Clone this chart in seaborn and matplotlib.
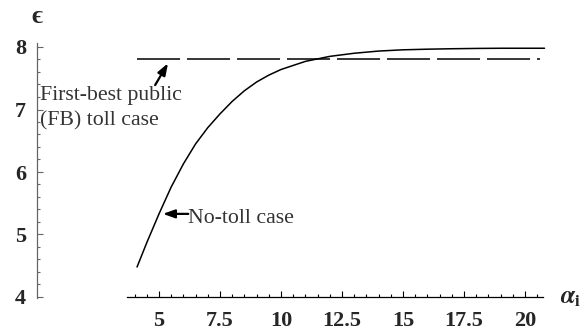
import numpy as np
import pandas as pd
import matplotlib
matplotlib.use("Agg")
import matplotlib.pyplot as plt
from matplotlib.ticker import FixedLocator
import seaborn as sns

# ===== DADOS =====
alpha = [4.1, 4.5, 5.0, 5.5, 6.0, 6.5, 7.0, 7.5, 8.0, 8.5, 9.0, 9.5, 10.0,
         11.0, 12.0, 13.0, 14.0, 15.0, 16.0, 17.0, 18.0, 19.0, 20.0, 20.8]
no_toll = [4.48, 4.87, 5.33, 5.76, 6.13, 6.45, 6.71, 6.93, 7.13, 7.30, 7.44,
           7.55, 7.64, 7.77, 7.85, 7.90, 7.935, 7.955, 7.965, 7.972, 7.977,
           7.98, 7.98, 7.98]
fb_alpha = [4.1, 20.6]
fb_toll = [7.81, 7.81]

xticks = [5, 7.5, 10, 12.5, 15, 17.5, 20]
xtick_labels = ["5", "7.5", "10", "12.5", "15", "17.5", "20"]
yticks = [4, 5, 6, 7, 8]

# ===== ESTILO =====
sns.set_style("white")
plt.rcParams["font.family"] = ["Liberation Serif", "DejaVu Serif"]
plt.rcParams["mathtext.fontset"] = "stix"
plt.rcParams["lines.scale_dashes"] = False

fig = plt.figure(figsize=(5.87, 3.31), dpi=100)
ax = fig.add_axes([0, 0, 1, 1])
ax.set_xlim(-1.516, 22.54)
ax.set_ylim(3.456, 8.752)

df = pd.DataFrame({"alpha": alpha, "eps": no_toll})
df_fb = pd.DataFrame({"alpha": fb_alpha, "eps": fb_toll})

sns.lineplot(data=df, x="alpha", y="eps", color="black", linewidth=1.1, ax=ax)
ln = sns.lineplot(data=df_fb, x="alpha", y="eps", color="black",
                  linewidth=1.1, ax=ax).lines[-1]
ln.set_dashes((31, 5))

# ===== EIXOS =====
for s in ["top", "right"]:
    ax.spines[s].set_visible(False)
ax.spines["left"].set_position(("data", 0))
ax.spines["left"].set_bounds(3.98, 8.06)
ax.spines["left"].set_color("#666666")
ax.spines["bottom"].set_position(("data", 4))
ax.spines["bottom"].set_bounds(3.69, 20.75)
ax.spines["bottom"].set_color("black")
for s in ["left", "bottom"]:
    ax.spines[s].set_linewidth(0.9)

ax.set_xticks(xticks)
ax.set_xticklabels(xtick_labels)
ax.set_yticks(yticks)
ax.xaxis.set_minor_locator(FixedLocator(np.arange(4, 20.51, 0.5)))
ax.yaxis.set_minor_locator(FixedLocator(np.arange(4, 8.01, 0.2)))
ax.tick_params(axis="x", which="both", direction="in", bottom=True,
               color="black", width=0.8)
ax.tick_params(axis="y", which="both", direction="in", left=True,
               color="#666666", width=0.8)
ax.tick_params(which="major", length=4)
ax.tick_params(which="minor", length=2)
ax.tick_params(axis="x", pad=10, labelsize=16)
ax.tick_params(axis="y", pad=8, labelsize=16)
for lab in ax.get_xticklabels() + ax.get_yticklabels():
    lab.set_fontweight("bold")
ax.set_xlabel("")
ax.set_ylabel("")

# ===== TEXTOS =====
ax.text(0.0, 8.49, "\u03f5", fontsize=19, fontweight="bold", ha="center",
        va="center")
ax.text(21.43, 3.90, r"$\boldsymbol{\alpha}_{\mathbf{i}}$", fontsize=18,
        ha="left", va="baseline")

seta = dict(arrowstyle="-|>,head_length=0.7,head_width=0.25",
            color="black", lw=1.6, shrinkA=0, shrinkB=0)
ax.text(0.12, 7.15, "First-best public", fontsize=15.7, color="#333333",
        ha="left", va="baseline")
ax.text(0.12, 6.75, "(FB) toll case", fontsize=15.7, color="#333333",
        ha="left", va="baseline")
ax.annotate("", xy=(5.37, 7.74), xytext=(4.84, 7.39), arrowprops=seta)

ax.text(6.2, 5.18, "No-toll case", fontsize=15.7, color="#333333",
        ha="left", va="baseline")
ax.annotate("", xy=(5.16, 5.33), xytext=(6.2, 5.33), arrowprops=seta)

fig.savefig("out.png", dpi=100)
